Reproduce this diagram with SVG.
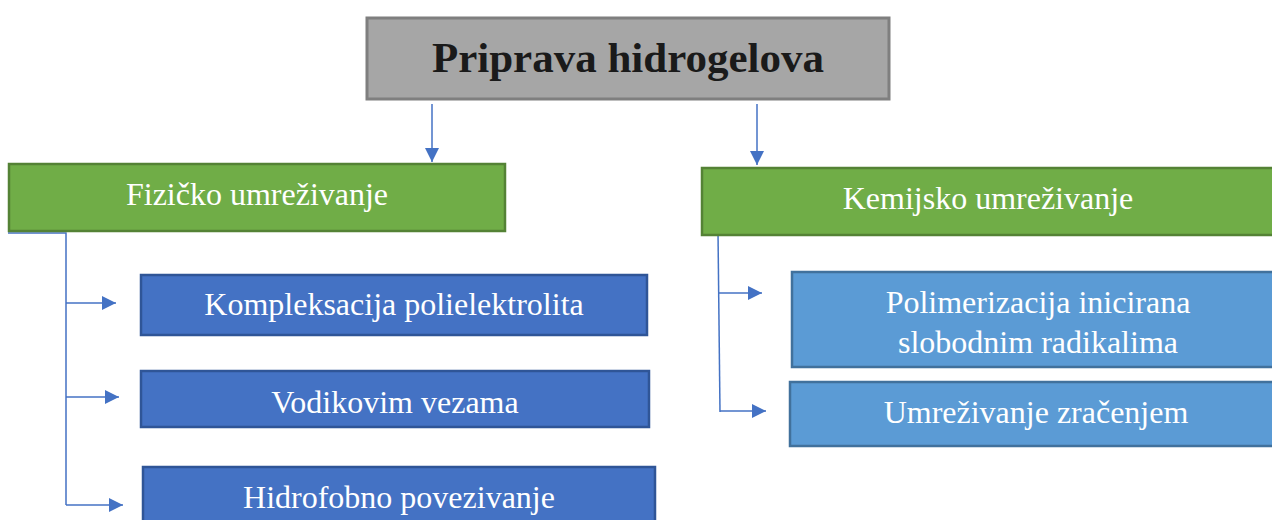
<svg xmlns="http://www.w3.org/2000/svg" width="1272" height="520" viewBox="0 0 1272 520">
<style>
text{font-family:"Liberation Serif","Times New Roman",serif;text-anchor:middle;fill:#fff;font-size:32px}
.title{fill:#1a1a1a;font-weight:bold;font-size:43px}
.grey{fill:#a6a6a6;stroke:#7f7f7f;stroke-width:3}
.green{fill:#70ad47;stroke:#548235;stroke-width:2.5}
.dblue{fill:#4472c4;stroke:#2f5597;stroke-width:2.5}
.lblue{fill:#5b9bd5;stroke:#41719c;stroke-width:2.5}
.conn{fill:none;stroke:#4472c4;stroke-width:1.5}
</style>
<defs>
<marker id="a" viewBox="0 0 10 10" refX="10" refY="5" markerWidth="14" markerHeight="14" markerUnits="userSpaceOnUse" orient="auto">
<path d="M0,0 L10,5 L0,10 z" fill="#4472c4"/>
</marker>
</defs>
<rect width="1272" height="520" fill="#fff"/>
<g id="connectors">
<path class="conn" d="M432,104 V162" marker-end="url(#a)"/>
<path class="conn" d="M757,104 V165" marker-end="url(#a)"/>
<path class="conn" d="M8,233 H66 V505"/>
<path class="conn" d="M66,303 H116" marker-end="url(#a)"/>
<path class="conn" d="M66,397 H119" marker-end="url(#a)"/>
<path class="conn" d="M66,505 H123" marker-end="url(#a)"/>
<path class="conn" d="M718,232 L720,412"/>
<path class="conn" d="M719,293 H762" marker-end="url(#a)"/>
<path class="conn" d="M720,411 H766" marker-end="url(#a)"/>
</g>
<g id="n-title"><rect class="grey" x="367" y="18" width="522" height="81"/><text class="title" x="628" y="72">Priprava hidrogelova</text></g>
<g id="n-fizicko"><rect class="green" x="9" y="164" width="496" height="67"/><text x="257" y="205">Fizičko umreživanje</text></g>
<g id="n-kemijsko"><rect class="green" x="702" y="168" width="574" height="67"/><text x="988" y="209">Kemijsko umreživanje</text></g>
<g id="n-komp"><rect class="dblue" x="141" y="275" width="506" height="60"/><text x="394" y="315">Kompleksacija polielektrolita</text></g>
<g id="n-vodik"><rect class="dblue" x="141" y="371" width="508" height="56"/><text x="395" y="413">Vodikovim vezama</text></g>
<g id="n-hidro"><rect class="dblue" x="143" y="467" width="512" height="60"/><text x="399" y="508">Hidrofobno povezivanje</text></g>
<g id="n-polim"><rect class="lblue" x="792" y="272" width="484" height="95"/><text x="1038" y="313">Polimerizacija inicirana</text><text x="1038" y="353">slobodnim radikalima</text></g>
<g id="n-zrac"><rect class="lblue" x="790" y="382" width="486" height="64"/><text x="1036" y="423">Umreživanje zračenjem</text></g>
</svg>
